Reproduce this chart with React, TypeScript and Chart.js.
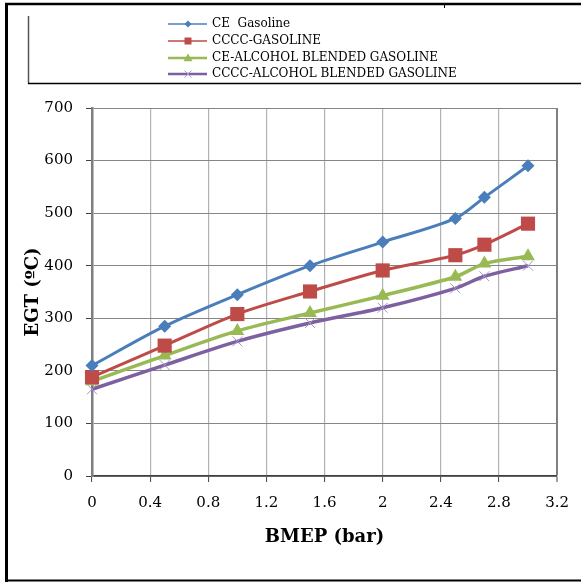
import React, { useEffect, useRef } from "react";
import { Chart, registerables } from "chart.js";

Chart.register(...registerables);

const BMEP = [0, 0.5, 1, 1.5, 2, 2.5, 2.7, 3];
const CE_GASOLINE = [210, 285, 345, 400, 445, 490, 530, 590];
const CCCC_GASOLINE = [188, 248, 308, 351, 391, 420, 440, 480];
const CE_ALCOHOL = [180, 229, 276, 310, 343, 379, 404, 418];
const CCCC_ALCOHOL = [165, 211, 256, 291, 320, 357, 380, 400];
const SERIES_NAMES = [
  "CE  Gasoline",
  "CCCC-GASOLINE",
  "CE-ALCOHOL BLENDED GASOLINE",
  "CCCC-ALCOHOL BLENDED GASOLINE",
];
const X_TITLE = "BMEP (bar)";
const Y_TITLE = "EGT (ºC)";

const W = 581;
const H = 582;

function drawMarker(ctx: CanvasRenderingContext2D, style: string, x: number, y: number, r: number, fill: string, stroke: string) {
  ctx.save();
  ctx.fillStyle = fill;
  ctx.strokeStyle = stroke;
  ctx.lineWidth = 1;
  ctx.beginPath();
  if (style === "rectRot") {
    ctx.moveTo(x, y - r);
    ctx.lineTo(x + r, y);
    ctx.lineTo(x, y + r);
    ctx.lineTo(x - r, y);
    ctx.closePath();
    ctx.fill();
  } else if (style === "rect") {
    ctx.rect(x - r, y - r, 2 * r, 2 * r);
    ctx.fill();
  } else if (style === "triangle") {
    ctx.moveTo(x, y - r);
    ctx.lineTo(x + r, y + r * 0.7);
    ctx.lineTo(x - r, y + r * 0.7);
    ctx.closePath();
    ctx.fill();
  } else if (style === "crossRot") {
    ctx.moveTo(x - r, y - r);
    ctx.lineTo(x + r, y + r);
    ctx.moveTo(x + r, y - r);
    ctx.lineTo(x - r, y + r);
    ctx.stroke();
  }
  ctx.restore();
}

export default function App() {
  const ref = useRef<HTMLCanvasElement | null>(null);

  useEffect(() => {
    if (!ref.current) return;
    const toPts = (ys: number[]) => BMEP.map((x, i) => ({ x, y: ys[i] }));

    const legendItems = [
      { color: "#4a7ebb", lw: 1.3, style: "rectRot", r: 3.5, mfill: "#4a7ebb", mstroke: "#4a7ebb" },
      { color: "#be4b48", lw: 1.3, style: "rect", r: 3.5, mfill: "#be4b48", mstroke: "#be4b48" },
      { color: "#98b954", lw: 2.5, style: "triangle", r: 4.5, mfill: "#98b954", mstroke: "#98b954" },
      { color: "#7d60a0", lw: 2.5, style: "crossRot", r: 3.5, mfill: "#a594c6", mstroke: "#a594c6" },
    ];
    const rowsY = [24, 41, 58, 74];

    const framePlugin = {
      id: "frame",
      beforeDraw(chart: any) {
        const ctx = chart.ctx;
        ctx.save();
        ctx.fillStyle = "#ffffff";
        ctx.fillRect(0, 0, W, H);
        ctx.restore();
      },
      afterDraw(chart: any) {
        const ctx: CanvasRenderingContext2D = chart.ctx;
        ctx.save();
        // outer frame
        ctx.strokeStyle = "#000000";
        ctx.lineWidth = 3;
        ctx.beginPath();
        ctx.moveTo(6.5, 3);
        ctx.lineTo(6.5, H);
        ctx.stroke();
        ctx.lineWidth = 2.5;
        ctx.beginPath();
        ctx.moveTo(5, 4);
        ctx.lineTo(W, 4);
        ctx.stroke();
        ctx.lineWidth = 2;
        ctx.beginPath();
        ctx.moveTo(5, 580.5);
        ctx.lineTo(W, 580.5);
        ctx.stroke();
        ctx.lineWidth = 1;
        ctx.beginPath();
        ctx.moveTo(444.5, 4);
        ctx.lineTo(444.5, 8);
        ctx.stroke();
        // legend box
        ctx.strokeStyle = "#555555";
        ctx.lineWidth = 1.5;
        ctx.beginPath();
        ctx.moveTo(28.5, 16);
        ctx.lineTo(28.5, 83.5);
        ctx.stroke();
        ctx.strokeStyle = "#000000";
        ctx.beginPath();
        ctx.moveTo(28, 83.5);
        ctx.lineTo(W, 83.5);
        ctx.stroke();
        // legend entries
        legendItems.forEach((it, i) => {
          const y = rowsY[i];
          ctx.strokeStyle = it.color;
          ctx.lineWidth = it.lw;
          ctx.beginPath();
          ctx.moveTo(168, y);
          ctx.lineTo(207, y);
          ctx.stroke();
          drawMarker(ctx, it.style, 188, y, it.r, it.mfill, it.mstroke);
          ctx.fillStyle = "#000000";
          ctx.font = "12px 'DejaVu Serif'";
          ctx.textAlign = "left";
          ctx.textBaseline = "middle";
          ctx.fillText(SERIES_NAMES[i], 212, y);
        });
        ctx.restore();
      },
    };

    const chart = new Chart(ref.current, {
      type: "line",
      data: {
        datasets: [
          {
            label: SERIES_NAMES[0],
            data: toPts(CE_GASOLINE),
            borderColor: "#4a7ebb",
            backgroundColor: "#4a7ebb",
            borderWidth: 3,
            pointStyle: "rectRot",
            pointRadius: 6.5,
            pointBorderWidth: 0,
            tension: 0.3,
            clip: false,
          },
          {
            label: SERIES_NAMES[1],
            data: toPts(CCCC_GASOLINE),
            borderColor: "#be4b48",
            backgroundColor: "#be4b48",
            borderWidth: 3,
            pointStyle: "rect",
            pointRadius: 10,
            pointBorderWidth: 0,
            tension: 0.3,
            clip: false,
          },
          {
            label: SERIES_NAMES[2],
            data: toPts(CE_ALCOHOL),
            borderColor: "#98b954",
            backgroundColor: "#98b954",
            borderWidth: 3.5,
            pointStyle: "triangle",
            pointRadius: 8,
            pointBorderWidth: 0,
            tension: 0.3,
            clip: false,
          },
          {
            label: SERIES_NAMES[3],
            data: toPts(CCCC_ALCOHOL),
            borderColor: "#7d60a0",
            backgroundColor: "#a594c6",
            pointBorderColor: "#a594c6",
            borderWidth: 3.5,
            pointStyle: "crossRot",
            pointRadius: 7,
            pointBorderWidth: 1,
            tension: 0.3,
            clip: false,
          },
        ],
      },
      options: {
        responsive: false,
        animation: false,
        events: [],
        layout: { padding: { left: 0, top: 108, right: 23, bottom: 0 } },
        plugins: {
          legend: { display: false },
          tooltip: { enabled: false },
        },
        scales: {
          x: {
            type: "linear",
            min: 0,
            max: 3.2,
            afterFit: (s: any) => {
              s.height = H - 476;
            },
            ticks: {
              stepSize: 0.4,
              padding: 12,
              color: "#000000",
              font: { family: "'DejaVu Serif'", size: 15 },
              maxRotation: 0,
              autoSkip: false,
              callback: (v: any) => String(Math.round(Number(v) * 10) / 10),
            },
            grid: {
              color: (c: any) => (c.index === 8 ? "#808080" : "#b3b3b3"),
              lineWidth: (c: any) => (c.index === 8 ? 2 : 1.2),
              tickLength: 6,
              tickColor: "#404040",
              tickWidth: 1,
            },
            border: { display: true, color: "#404040", width: 1.5 },
            title: {
              display: true,
              text: X_TITLE,
              color: "#000000",
              font: { family: "'DejaVu Serif'", size: 18, weight: "bold" },
              padding: { top: 0, bottom: 34 },
            },
          },
          y: {
            type: "linear",
            min: 0,
            max: 700,
            afterFit: (s: any) => {
              s.width = 92;
            },
            ticks: {
              stepSize: 100,
              padding: 13,
              color: "#000000",
              font: { family: "'DejaVu Serif'", size: 15 },
            },
            grid: {
              color: "#868686",
              lineWidth: 1,
              tickLength: 6,
              tickColor: "#404040",
              tickWidth: 1,
            },
            border: { display: true, color: "#7f7f7f", width: 2.5 },
            title: {
              display: true,
              text: Y_TITLE,
              color: "#000000",
              font: { family: "'DejaVu Serif'", size: 18, weight: "bold" },
              padding: { top: 23, bottom: 0 },
            },
          },
        },
      },
      plugins: [framePlugin],
    } as any);

    return () => {
      chart.destroy();
    };
  }, []);

  return (
    <div style={{ position: "absolute", left: 0, top: 0, width: W, height: H }}>
      <canvas ref={ref} width={W} height={H} style={{ display: "block", width: W, height: H }} />
    </div>
  );
}
